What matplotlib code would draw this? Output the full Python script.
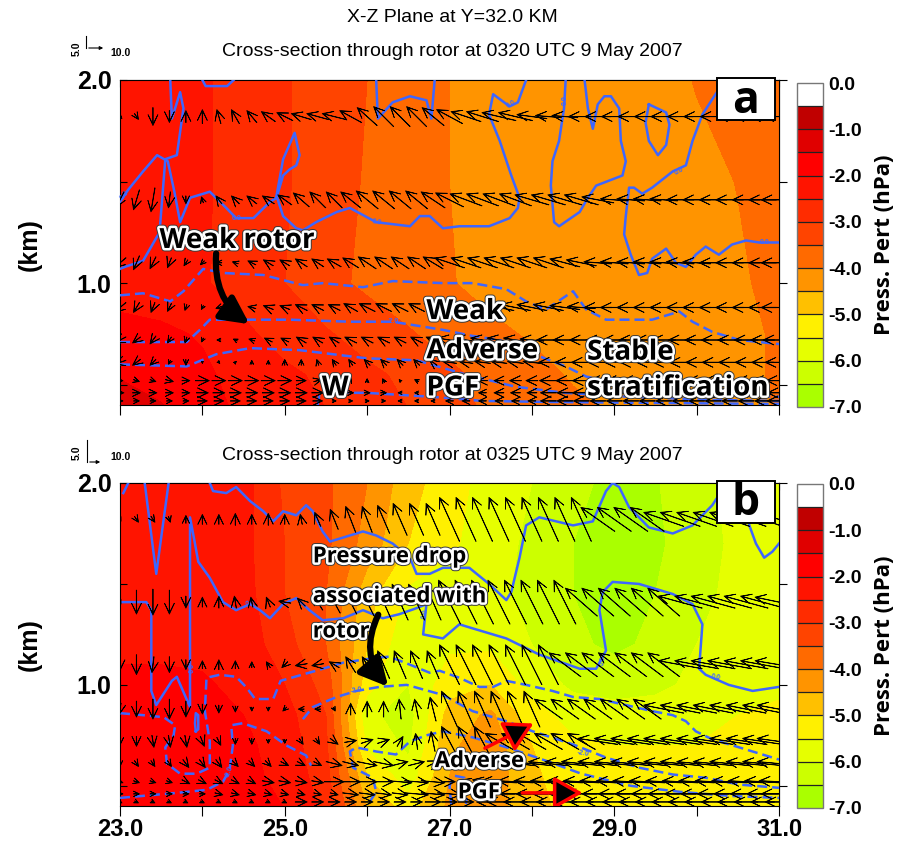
import numpy as np
import matplotlib
matplotlib.use("Agg")
import matplotlib.pyplot as plt
from matplotlib.colors import ListedColormap, BoundaryNorm
from matplotlib.patches import FancyArrowPatch, Rectangle
from matplotlib.lines import Line2D
from matplotlib.ticker import FixedLocator, FixedFormatter
from matplotlib import patheffects as pe
from matplotlib import font_manager as fm


def first_font(*names):
    for name in names:
        try:
            fm.findfont(fm.FontProperties(family=name), fallback_to_default=False)
            return name
        except ValueError:
            continue
    return 'DejaVu Sans'


NARROW = first_font('Liberation Sans Narrow', 'Liberation Sans', 'DejaVu Sans')
HUMAN = first_font('Open Sans', 'Noto Sans', 'DejaVu Sans')

plt.rcParams['axes.unicode_minus'] = False
plt.rcParams['font.family'] = [NARROW]
plt.rcParams['font.weight'] = 'bold'

# ---------------------------------------------------------------- data
press_levels = [-7.0, -6.5, -6.0, -5.5, -5.0, -4.5, -4.0, -3.5, -3.0,
                -2.5, -2.0, -1.5, -1.0, -0.5, 0.0]
press_colors = ['#aaff00', '#ccff00', '#e6ff00', '#fff000', '#ffc000',
                '#ff9400', '#ff6a00', '#ff4400', '#ff2c00', '#ff1400',
                '#ff0000', '#e00000', '#c00000', '#ffffff']
cbar_ticks = [-7.0, -6.0, -5.0, -4.0, -3.0, -2.0, -1.0, 0.0]
cbar_labels = ['-7.0', '-6.0', '-5.0', '-4.0', '-3.0', '-2.0', '-1.0', '0.0']

grid_x = [23.0, 23.5, 24.0, 24.5, 25.0, 25.5, 26.0, 26.5, 27.0,
          27.5, 28.0, 28.5, 29.0, 29.5, 30.0, 30.5, 31.0]

# pressure perturbation (hPa), 0320 UTC
pa_z = [0.38, 0.55, 0.75, 1.0, 1.5, 2.0]
pa_p = [
    [-1.2, -1.45, -1.8, -2.1, -2.3, -2.5, -2.75, -3.0, -3.3, -3.6, -3.75, -3.9, -4.05, -4.2, -4.2, -4.1, -3.98],
    [-1.55, -1.7, -1.9, -2.2, -2.4, -2.6, -2.9, -3.1, -3.4, -3.65, -3.85, -4.05, -4.2, -4.25, -4.2, -4.1, -3.95],
    [-1.85, -1.9, -2.05, -2.4, -2.7, -2.95, -3.2, -3.45, -3.7, -3.9, -4.05, -4.2, -4.3, -4.3, -4.2, -4.1, -3.95],
    [-2.2, -2.3, -2.45, -2.7, -3.0, -3.35, -3.6, -3.8, -3.97, -4.15, -4.25, -4.3, -4.3, -4.25, -4.15, -4.05, -3.9],
    [-2.2, -2.3, -2.45, -2.65, -2.95, -3.25, -3.55, -3.8, -4.0, -4.15, -4.25, -4.3, -4.3, -4.2, -4.1, -3.99, -3.85],
    [-2.2, -2.3, -2.45, -2.65, -2.95, -3.25, -3.5, -3.75, -4.0, -4.15, -4.25, -4.3, -4.25, -4.15, -3.98, -3.85, -3.75],
]

# pressure perturbation (hPa), 0325 UTC
pb_z = [0.38, 0.55, 0.7, 0.85, 1.0, 1.2, 1.45, 1.7, 2.0]
pb_p = [
    [-1.8, -1.8, -1.8, -1.9, -2.0, -2.6, -4.5, -5.2, -4.4, -4.3, -4.8, -5.2, -5.3, -5.3, -5.2, -5.2, -5.1],
    [-1.8, -1.8, -1.8, -1.9, -2.1, -2.8, -5.0, -5.8, -4.5, -4.2, -4.9, -5.3, -5.4, -5.4, -5.3, -5.3, -5.2],
    [-1.75, -1.75, -1.8, -1.9, -2.2, -2.9, -5.6, -6.1, -4.6, -4.2, -5.0, -5.4, -5.5, -5.5, -5.5, -5.4, -5.3],
    [-1.8, -1.8, -1.85, -2.0, -2.3, -3.0, -5.9, -6.2, -4.8, -4.4, -5.3, -5.7, -5.8, -5.8, -5.7, -5.5, -5.4],
    [-1.9, -1.9, -1.95, -2.1, -2.5, -3.2, -5.3, -6.0, -5.2, -5.0, -5.7, -6.1, -6.2, -6.1, -5.9, -5.7, -5.6],
    [-2.1, -2.1, -2.1, -2.2, -2.8, -3.5, -5.0, -5.9, -5.6, -5.6, -6.0, -6.4, -6.6, -6.4, -6.0, -5.8, -5.7],
    [-2.2, -2.2, -2.2, -2.3, -3.0, -3.5, -4.8, -5.6, -5.8, -5.9, -6.1, -6.5, -6.7, -6.5, -6.1, -5.9, -5.8],
    [-2.2, -2.2, -2.2, -2.35, -3.0, -3.4, -4.2, -5.0, -5.4, -5.8, -6.1, -6.5, -6.7, -6.6, -6.2, -5.9, -5.8],
    [-2.2, -2.2, -2.2, -2.3, -3.1, -3.4, -4.0, -4.8, -5.3, -5.7, -6.0, -6.4, -6.6, -6.55, -6.1, -5.9, -5.8],
]

# wind vectors (u, w in m/s) on model levels, columns every 0.2 km from 23.0 to 31.0
wind_x = np.linspace(23.0, 31.0, 41)
wind_z = [0.42, 0.46, 0.52, 0.61, 0.72, 0.88, 1.10, 1.41, 1.82]

pa_u = [
    [3, 3, 3, 3, 3, 5, 5, 5, 5, 5,
     5, 5, 5, 2, 2, 2, 2, -2, -2, -2,
     -4, -4, -4, -4, -4, -4, -8, -8, -8, -8,
     -8, -8, -8, -8, -8, -8, -8, -8, -8, -8, -12],
    [4, 4, 4, 4, 4, 6, 6, 6, 6, 6,
     6, 6, 6, 3, 3, 3, 3, -2, -2, -2,
     -4, -4, -4, -5, -5, -5, -8, -8, -9, -9,
     -9, -9, -9, -9, -9, -9, -9, -9, -9, -9, -12],
    [3, 3, 3, 4, 4, 7, 7, 7, 7, 7,
     7, 5, 4, 2, 1, 0, -1, -1, -2, -3,
     -5, -5, -5, -5, -6, -6, -9, -9, -9, -9,
     -9, -9, -9, -10, -10, -10, -10, -10, -10, -10, -13],
    [-6, -4, -3, -1, 0, 0, 1, 1, 0, 0,
     0, 0, -1, -2, -2, -3, -3, -3, -3, -4,
     -7, -7, -8, -8, -8, -9, -10, -10, -10, -10,
     -10, -11, -11, -11, -11, -11, -11, -11, -11, -11, -14],
    [-6, -4, -3, -2, -1, -1, -2, -2, -3, -4,
     -4, -5, -5, -5, -6, -6, -6, -6, -6, -7,
     -12, -12, -12, -12, -12, -12, -12, -12, -12, -12,
     -12, -12, -12, -12, -12, -12, -12, -12, -12, -12, -16],
    [-6, -3, -2, -2, -1, -1, -3, -3, -4, -5,
     -5, -6, -6, -6, -7, -8, -8, -8, -8, -9,
     -15, -15, -15, -15, -15, -15, -15, -15, -14, -14,
     -14, -14, -14, -14, -14, -14, -14, -14, -14, -14, -18],
    [-6, -3, -3, -2, -2, -2, -3, -3, -4, -5,
     -5, -6, -6, -7, -8, -9, -9, -9, -9, -10,
     -15, -15, -15, -15, -15, -15, -15, -15, -15, -14,
     -14, -14, -14, -14, -14, -14, -14, -14, -14, -14, -18],
    [-4, -3, -2, -1, 0, -1, -3, -4, -5, -6,
     -7, -8, -8, -8, -10, -11, -11, -11, -11, -12,
     -14, -16, -16, -16, -16, -17, -17, -17, -17, -16,
     -14, -14, -14, -14, -14, -14, -14, -14, -14, -14, -18],
    [2, 2, 0, 0, 0, 0, -2, -4, -5, -7,
     -8, -10, -11, -12, -11, -10, -10, -10, -10, -11,
     -13, -15, -16, -17, -17, -15, -13, -13, -13, -13,
     -13, -13, -13, -13, -13, -13, -13, -13, -13, -13, -16],
]
pa_w = [
    [0, 0, 0, 0, 0, 0, 0, 0, 0, 0,
     0, 0, 0, 0, 0, 0, 0, 0, 0, 0,
     0, 0, 0, 0, 0, 0, 0, 0, 0, 0,
     0, 0, 0, 0, 0, 0, 0, 0, 0, 0, 0],
    [0, 0, 0, 0, 0, 0, 0, 0, 0, 0,
     0, 0, 0, 0, 0, 0, 0, 0, 0, 0,
     0, 0, 0, 0, 0, 0, 0, 0, 0, 0,
     0, 0, 0, 0, 0, 0, 0, 0, 0, 0, 0],
    [0, -1, -1, -1, 0, 0, 0, 0, 0, 0,
     0, 0, 1, 1, 2, 2, 2, 1, 1, 1,
     0, 0, 0, 0, 0, 0, 0, 0, 0, 0,
     0, 0, 0, 0, 0, 0, 0, 0, 0, 0, 0],
    [-2, -3, -3, -2, -3, -1, -1, 1, 2, 2,
     3, 3, 3, 3, 3, 3, 3, 3, 3, 3,
     1, 1, 1, 1, 1, 1, 0, 0, 0, 0,
     0, 0, 0, 0, 0, 0, 0, 0, 0, 0, 0],
    [-3, -3, -4, -3, -3, -2, 0, 1, 1, 2,
     2, 3, 3, 3, 3, 3, 3, 3, 3, 3,
     2, 2, 2, 2, 2, 1, 0, 0, 0, 0,
     0, 0, 0, 0, 0, 0, 0, 0, 0, 0, 0],
    [-5, -5, -5, -4, -3, -2, -1, 0, 1, 2,
     2, 3, 3, 3, 4, 4, 4, 4, 4, 4,
     3, 3, 3, 3, 3, 3, 3, 2, 1, 0,
     0, 0, 0, 0, 0, 0, 0, 0, 0, 0, 0],
    [-5, -7, -6, -5, -3, -2, 0, 1, 2, 3,
     3, 4, 4, 4, 5, 6, 6, 6, 6, 6,
     5, 5, 5, 5, 5, 5, 5, 4, 3, 1,
     1, 1, 1, 1, 1, 1, 0, 0, 0, 0, 0],
    [-8, -10, -12, -8, -4, 3, 4, 4, 4, 4,
     5, 7, 8, 8, 8, 9, 9, 9, 9, 8,
     7, 6, 6, 6, 6, 5, 5, 5, 5, 3,
     1, 1, 1, 1, 0, 0, 0, 0, 0, 0, 0],
    [-2, -3, -9, -6, 6, 7, 7, 7, 6, 5,
     4, 3, 3, 3, 6, 9, 10, 10, 10, 9,
     7, 5, 5, 4, 4, 2, 1, 1, 0, 0,
     0, 0, 0, 0, 0, 0, 0, 0, 0, 0, 0],
]

pb_u = [
    [2, 2, 2, 2, 2, 2, 2, 2, 2, 2,
     2, 6, 6, 6, 6, 6, 6, 6, 6, 8,
     8, 8, -6, -12, -12, -12, -12, -12, -12, -12,
     -12, -12, -12, -12, -12, -12, -12, -12, -12, -12, -14],
    [3, 3, 3, 3, 3, 3, 4, 4, 4, 4,
     4, 4, 4, 4, 8, 8, 8, 8, 12, 12,
     12, 4, -8, -16, -16, -16, -16, -16, -16, -16,
     -16, -16, -16, -16, -16, -16, -16, -16, -16, -16, -18],
    [3, 3, 3, 3, 4, 4, 4, 4, 4, 6,
     6, 6, 6, 10, 10, 10, 10, 12, 12, 12,
     6, -6, -10, -18, -18, -18, -18, -18, -18, -18,
     -18, -18, -18, -18, -18, -18, -18, -18, -18, -18, -20],
    [0, 2, 2, 2, 3, 3, 3, 3, 3, 3,
     4, 4, 4, 8, 8, 10, 10, 8, 8, 6,
     -4, -8, -10, -20, -20, -20, -20, -20, -20, -20,
     -20, -20, -20, -20, -20, -20, -20, -20, -20, -20, -22],
    [0, 0, 1, 1, 1, 2, 2, 0, 0, 0,
     0, 2, 2, 4, 6, 6, 6, 3, -1, -2,
     -8, -8, -8, -14, -14, -14, -14, -14, -14, -20,
     -20, -20, -20, -20, -20, -20, -20, -20, -20, -20, -22],
    [-1, 0, 0, 0, 0, 0, 0, 0, 0, 0,
     -2, -3, -3, 1, 0, 0, 0, -1, -2, -3,
     -8, -8, -8, -8, -8, -8, -14, -14, -14, -14,
     -14, -14, -14, -20, -20, -20, -20, -20, -20, -20, -22],
    [0, 0, -1, 0, 0, 0, 0, 0, 0, -2,
     -3, -6, -6, -5, -5, -5, -6, -6, -6, -6,
     -10, -10, -10, -10, -10, -10, -10, -16, -16, -16,
     -16, -16, -16, -16, -22, -22, -22, -22, -22, -22, -24],
    [1, 0, 0, 0, 0, 0, 0, -1, -1, -2,
     -6, -4, -5, -6, -6, -7, -8, -8, -8, -8,
     -11, -11, -11, -11, -11, -11, -11, -11, -16, -16,
     -16, -16, -16, -16, -22, -22, -22, -22, -22, -22, -24],
    [1, 2, 2, 1, 0, 0, 0, 0, 0, 0,
     0, -1, -3, -4, -5, -5, -6, -7, -7, -7,
     -10, -10, -10, -10, -10, -10, -10, -10, -10, -17,
     -17, -17, -17, -20, -20, -20, -20, -20, -20, -20, -22],
]
pb_w = [
    [-1, -1, -1, -1, -1, -1, -1, -1, -1, -1,
     -1, 0, 0, 0, 0, 0, 0, 0, 0, 0,
     0, 0, 0, 0, 0, 0, 0, 0, 0, 0,
     0, 0, 0, 0, 0, 0, 0, 0, 0, 0, 0],
    [0, 0, 0, 0, 0, 0, -1, -1, -1, -1,
     -1, -1, -1, -1, -1, -1, -1, -1, -1, -1,
     -1, 0, 0, 0, 0, 0, 0, 0, 0, 0,
     0, 0, 0, 0, 0, 0, 0, 0, 0, 0, 0],
    [-1, -1, -1, -1, -2, -2, -2, -2, -2, -1,
     -1, -1, -1, 0, 0, 0, 0, -1, -1, -1,
     0, 2, 2, 1, 1, 1, 1, 1, 1, 1,
     1, 1, 1, 1, 1, 1, 1, 1, 1, 1, 1],
    [-3, -3, -3, -3, -4, -4, -4, -3, -3, -3,
     -2, -2, -2, -2, -2, -2, -2, 2, 2, 3,
     6, 6, 6, 2, 2, 2, 2, 2, 2, 2,
     2, 2, 2, 2, 2, 2, 2, 2, 2, 2, 2],
    [-4, -5, -6, -6, -6, -5, -4, -3, -3, -2,
     -2, -3, -3, -3, 1, 2, 2, 5, 8, 10,
     15, 15, 15, 8, 8, 8, 8, 8, 8, 3,
     3, 3, 3, 3, 3, 3, 3, 3, 3, 3, 3],
    [-6, -8, -10, -10, -8, -5, -4, -3, -2, -2,
     -2, 0, 0, -2, 6, 8, 8, 10, 10, 12,
     18, 18, 18, 18, 18, 18, 10, 10, 10, 10,
     10, 10, 10, 4, 4, 4, 4, 4, 4, 4, 4],
    [-6, -10, -8, -8, -5, 4, 5, 4, 3, 3,
     -3, -1, -1, 3, 8, 8, 14, 14, 14, 14,
     20, 20, 20, 20, 20, 20, 20, 12, 12, 12,
     12, 12, 12, 12, 4, 4, 4, 4, 4, 4, 4],
    [-2, -12, -13, -12, -6, 5, 6, 6, 5, 5,
     1, 4, 8, 11, 12, 14, 18, 18, 18, 18,
     22, 22, 22, 22, 22, 22, 22, 22, 14, 14,
     14, 14, 14, 14, 6, 6, 6, 6, 6, 6, 5],
    [-2, -3, -3, -3, 4, 5, 5, 6, 5, 6,
     5, 5, 7, 10, 13, 13, 14, 16, 16, 16,
     22, 22, 22, 22, 22, 22, 22, 22, 22, 12,
     12, 12, 12, 7, 7, 7, 7, 7, 7, 7, 6],
]

# contour lines (x km, z km): solid = 0.0, dashed = -2.0
pa_solid = [
    [(23.0, 1.40), (23.1, 1.46), (23.28, 1.55), (23.45, 1.63), (23.58, 1.60), (23.66, 1.45),
     (23.73, 1.30), (23.85, 1.42), (24.09, 1.45), (24.29, 1.37), (24.41, 1.32), (24.62, 1.32),
     (24.82, 1.40), (24.90, 1.42), (24.98, 1.53), (25.06, 1.56), (25.14, 1.58), (25.18, 1.63),
     (25.12, 1.74), (24.98, 1.61), (24.90, 1.43), (24.98, 1.33), (25.14, 1.27), (25.22, 1.26),
     (25.38, 1.30), (25.63, 1.35), (25.79, 1.37), (26.11, 1.30), (26.52, 1.28), (26.64, 1.33),
     (26.76, 1.33), (26.92, 1.27), (27.12, 1.28), (27.48, 1.28), (27.73, 1.32), (27.83, 1.37),
     (27.85, 1.42), (27.75, 1.53), (27.61, 1.70), (27.48, 1.83), (27.53, 1.93), (27.73, 1.87),
     (27.83, 1.89), (27.93, 2.0)],
    [(23.61, 2.0), (23.63, 1.81), (23.73, 1.94), (23.77, 1.86), (23.69, 1.63), (23.55, 1.61),
     (23.48, 1.25), (23.28, 1.11), (23.06, 1.08), (23.0, 1.07)],
    [(28.41, 2.0), (28.39, 1.86), (28.33, 1.70), (28.25, 1.60), (28.23, 1.48), (28.27, 1.30),
     (28.33, 1.28), (28.58, 1.35), (28.68, 1.42), (28.78, 1.48), (29.10, 1.53), (29.14, 1.60),
     (29.08, 1.70), (29.06, 1.86), (28.96, 1.92), (28.88, 1.92), (28.80, 1.88), (28.74, 1.76),
     (28.68, 1.86), (28.64, 2.0)],
    [(29.42, 1.88), (29.63, 1.84), (29.67, 1.78), (29.63, 1.68), (29.53, 1.63), (29.42, 1.70),
     (29.38, 1.79), (29.42, 1.88)],
    [(30.35, 2.0), (30.23, 1.93), (30.07, 1.83), (29.95, 1.70), (29.87, 1.58), (29.71, 1.55),
     (29.46, 1.47), (29.34, 1.44), (29.24, 1.47), (29.18, 1.47), (29.14, 1.33), (29.12, 1.24),
     (29.20, 1.14), (29.30, 1.04), (29.40, 1.05), (29.46, 1.12), (29.63, 1.17), (29.75, 1.10),
     (29.87, 1.08), (29.99, 1.14), (30.11, 1.18), (30.27, 1.14), (30.43, 1.19), (30.60, 1.21),
     (30.76, 1.20), (31.0, 1.20)],
    [(24.0, 2.0), (24.04, 1.97), (24.3, 1.97), (24.38, 2.0)],
    [(26.11, 2.0), (26.13, 1.81), (26.31, 1.89), (26.52, 1.92), (26.72, 1.90), (26.78, 1.81),
     (26.82, 2.0)],
]
pa_dashed = [
    [(23.0, 0.94), (23.28, 0.95), (23.61, 0.91), (23.77, 0.96), (24.01, 1.07), (24.25, 1.05),
     (24.74, 1.04), (25.22, 0.99), (25.46, 1.0), (25.95, 0.98), (26.31, 1.01), (26.92, 1.0),
     (27.28, 1.0), (27.69, 0.97), (27.93, 0.91), (28.17, 0.87), (28.50, 0.96), (28.66, 0.87),
     (28.90, 0.82), (29.46, 0.82), (29.79, 0.86), (29.95, 0.81), (30.19, 0.76), (30.52, 0.72),
     (31.0, 0.70)],
    [(23.0, 0.71), (23.57, 0.71), (23.81, 0.71), (23.97, 0.77), (24.09, 0.82), (24.41, 0.82),
     (25.06, 0.82), (25.79, 0.81), (26.31, 0.81), (26.92, 0.77), (27.28, 0.74), (27.61, 0.72),
     (28.09, 0.64), (28.41, 0.59), (28.66, 0.54), (29.22, 0.49), (29.71, 0.47), (30.23, 0.45),
     (31.0, 0.44)],
    [(23.0, 0.60), (23.81, 0.59), (24.17, 0.65), (24.58, 0.68), (25.18, 0.67), (25.99, 0.63),
     (26.6, 0.62), (27.2, 0.55), (27.8, 0.49), (28.4, 0.46), (29.2, 0.44), (30.2, 0.425),
     (31.0, 0.42)],
    [(25.40, 0.40), (25.42, 0.45), (25.58, 0.46), (25.99, 0.46), (26.8, 0.44), (27.4, 0.42),
     (28.21, 0.415), (29.5, 0.41), (31.0, 0.405)],
]

pb_solid = [
    [(23.04, 1.95), (23.1, 2.0)],
    [(23.30, 2.0), (23.44, 1.55), (23.59, 2.0)],
    [(24.09, 2.0), (24.13, 1.96), (24.29, 1.95), (24.41, 1.98), (24.58, 1.91), (24.74, 1.86),
     (24.86, 1.81), (24.98, 1.86), (25.14, 1.84), (25.26, 1.89), (25.34, 1.86), (25.46, 1.76),
     (25.55, 1.71), (25.71, 1.73), (25.95, 1.76), (26.11, 1.74), (26.31, 1.70), (26.52, 1.63),
     (26.60, 1.55), (26.76, 1.55), (26.92, 1.58), (27.24, 1.58), (27.48, 1.50), (27.69, 1.42),
     (27.75, 1.46), (27.85, 1.63), (27.93, 1.79), (28.09, 1.83), (28.50, 1.79), (28.74, 1.81),
     (28.90, 1.96), (28.98, 2.0), (29.06, 1.98), (29.18, 1.88), (29.42, 1.78), (29.71, 1.75),
     (29.95, 1.79), (30.19, 1.89), (30.27, 1.94)],
    [(30.60, 1.88), (30.64, 1.79), (30.72, 1.70), (30.82, 1.63), (30.92, 1.66), (31.0, 1.70)],
    [(23.0, 1.41), (23.32, 1.41), (23.38, 1.37), (23.38, 0.97), (23.44, 0.90), (23.63, 1.02),
     (23.69, 1.04), (23.85, 0.89), (23.85, 1.83), (23.91, 1.70), (23.95, 1.61), (24.09, 1.53),
     (24.25, 1.41), (24.41, 1.37), (24.58, 1.40), (24.70, 1.37), (24.82, 1.33), (24.98, 1.40),
     (25.14, 1.43), (25.30, 1.37), (25.46, 1.32), (25.71, 1.33), (25.95, 1.37), (26.19, 1.33),
     (26.39, 1.35), (26.60, 1.38), (26.72, 1.40), (26.68, 1.25), (26.92, 1.23), (27.12, 1.30),
     (27.28, 1.28), (27.69, 1.23), (28.09, 1.15), (28.58, 1.08), (28.78, 1.08), (28.90, 1.17),
     (28.82, 1.37), (28.86, 1.46), (28.98, 1.51), (29.30, 1.50), (29.71, 1.45), (29.95, 1.40),
     (30.07, 1.30), (30.03, 1.08), (30.11, 1.05), (30.39, 1.0), (30.68, 0.97), (31.0, 0.99)],
    [(23.92, 0.77), (23.95, 0.78), (23.95, 0.85), (23.92, 0.86), (23.91, 0.81), (23.92, 0.77)],
]
pb_dashed = [
    [(23.0, 0.86), (23.28, 0.85), (23.53, 0.84), (23.67, 0.80), (23.65, 0.75), (23.55, 0.69),
     (23.57, 0.61), (23.73, 0.56), (23.93, 0.56), (24.09, 0.59), (24.09, 0.72), (24.03, 0.87),
     (24.05, 1.035), (24.21, 1.05), (24.41, 1.04), (24.54, 0.985), (24.64, 0.93), (24.86, 0.93),
     (24.95, 1.02), (25.38, 1.07), (25.71, 1.11), (26.03, 1.13), (26.27, 1.14), (26.52, 1.10),
     (26.76, 1.06), (26.88, 1.07), (27.12, 1.035), (27.36, 0.99), (27.53, 0.99), (27.69, 1.02),
     (27.93, 1.0), (28.25, 0.97), (28.5, 0.94), (28.82, 0.93), (29.14, 0.90), (29.46, 0.87),
     (29.71, 0.85), (29.87, 0.82), (29.99, 0.77), (30.19, 0.73), (30.52, 0.69), (31.0, 0.63)],
    [(25.22, 0.83), (25.34, 0.89), (25.63, 0.94), (25.87, 0.97), (26.15, 0.99), (26.48, 1.0),
     (26.92, 0.95), (27.28, 0.87), (27.69, 0.82), (28.01, 0.77), (28.5, 0.705), (28.9, 0.64),
     (29.3, 0.59), (29.71, 0.556), (30.11, 0.54), (30.52, 0.506), (31.0, 0.49)],
    [(23.0, 0.44), (23.69, 0.465), (24.05, 0.48), (24.25, 0.52), (24.33, 0.58), (24.37, 0.70),
     (24.35, 0.80), (24.49, 0.81), (24.78, 0.77), (25.02, 0.70), (25.26, 0.65), (25.32, 0.60)],
    [(26.03, 0.42), (26.11, 0.47), (26.07, 0.54), (25.83, 0.59), (25.79, 0.67), (25.87, 0.69),
     (26.11, 0.67), (26.35, 0.655), (26.52, 0.72), (26.72, 0.75), (26.92, 0.77), (27.28, 0.74),
     (27.7, 0.69), (28.2, 0.62), (28.6, 0.56), (29.2, 0.50), (29.8, 0.47), (30.4, 0.45),
     (31.0, 0.44)],
    [(27.02, 0.41), (27.0, 0.50), (27.06, 0.55), (27.18, 0.54), (27.22, 0.47), (27.2, 0.41)],
]

pa_clabels = [(23.06, 1.43, '0.0', 50), (24.42, 1.32, '0.0', 0), (26.12, 1.30, '0.0', -10),
              (27.75, 1.88, '0.0', 30), (28.40, 1.90, '0.0', 90), (29.79, 1.55, '0.0', 30),
              (30.83, 1.20, '0.0', 0), (26.31, 0.81, '-2.0', 0)]
pb_clabels = [(24.58, 1.40, '0.0', 10), (23.83, 1.08, '0.0', -90), (25.87, 0.97, '-2.0', 10),
              (28.86, 1.12, '0.0', 80), (30.23, 1.035, '0.0', -10), (28.62, 0.66, '-2.0', -10),
              (24.33, 0.57, '-2.0', 70), (26.70, 1.35, '0.0', 80)]

# ---------------------------------------------------------------- style
BLUE = '#3d66ff'
cmap = ListedColormap(press_colors)
norm = BoundaryNorm(press_levels, cmap.N)
outline = [pe.Stroke(linewidth=5.0, foreground='#3a3a3a'),
           pe.Stroke(linewidth=3.6, foreground='white'), pe.Normal()]

W, H = 901, 842
fig = plt.figure(figsize=(W / 100, H / 100), dpi=100)


def fx(px):
    return px / W


def fy(py):
    return 1 - py / H


axa = fig.add_axes([fx(120), fy(405), 659 / W, 325 / H])
axb = fig.add_axes([fx(120), fy(806), 659 / W, 323 / H])
caxa = fig.add_axes([fx(797), fy(407), 26 / W, 324 / H])
caxb = fig.add_axes([fx(797), fy(808), 26 / W, 324 / H])


def draw_panel(ax, cax, p_z, p_vals, u_rows, w_rows, solid, dashed, clabels, letter, xlabels):
    cf = ax.contourf(grid_x, p_z, np.array(p_vals), levels=press_levels,
                     cmap=cmap, norm=norm, zorder=1)
    for line in solid:
        xs, zs = zip(*line)
        ax.plot(xs, zs, color=BLUE, lw=1.8, zorder=3, solid_joinstyle='round')
    for line in dashed:
        xs, zs = zip(*line)
        ax.plot(xs, zs, color=BLUE, lw=1.8, ls=(0, (4, 2)), zorder=3)
    for x, z, s, rot in clabels:
        ax.text(x, z, s, color=BLUE, fontsize=5, fontweight='bold',
                rotation=rot, ha='center', va='center', zorder=3.5)
    X, Z = np.meshgrid(wind_x, wind_z)
    # thin shafts with stroked, swept-back barbs so the heads read as open "V"s
    ax.quiver(X, Z, np.array(u_rows, float), np.array(w_rows, float),
              pivot='middle', angles='uv', scale=50, scale_units='inches',
              units='dots', width=0.35, headwidth=28, headlength=31,
              headaxislength=5, minlength=0.5, color='black',
              edgecolor='black', linewidth=0.55, zorder=4)

    ax.set_xlim(23.0, 31.0)
    ax.set_ylim(0.40, 2.0)
    ax.set_xticks([23, 25, 27, 29, 31])
    ax.set_xticks([24, 26, 28, 30], minor=True)
    ax.set_yticks([1.0, 2.0])
    ax.set_yticks([0.5, 1.5], minor=True)
    ax.set_yticklabels(['1.0', '2.0'], fontsize=18, fontweight='bold')
    if xlabels:
        ax.set_xticklabels(['23.0', '25.0', '27.0', '29.0', '31.0'],
                           fontsize=17, fontweight='bold')
    else:
        ax.set_xticklabels([])
    ax.tick_params(axis='x', which='both', direction='out', length=7, width=0.8,
                   top=False, pad=2)
    ax.tick_params(axis='y', which='both', direction='in', length=5, width=0.8,
                   right=False, pad=6)
    top = ax.secondary_xaxis('top')
    top.set_xticks([23, 24, 25, 26, 27, 28, 29, 30, 31])
    top.tick_params(direction='in', length=5, width=0.8, labeltop=False)
    right = ax.secondary_yaxis('right')
    right.set_yticks([0.5, 1.0, 1.5, 2.0])
    right.tick_params(direction='out', length=6, width=0.8, labelright=False)

    ax.add_patch(Rectangle((0.906, 0.877), 0.088, 0.13, transform=ax.transAxes,
                           facecolor='white', edgecolor='black', lw=1.4,
                           clip_on=False, zorder=10))
    ax.text(0.950, 0.935, letter, transform=ax.transAxes, ha='center', va='center',
            fontsize=32, fontweight='bold', family=HUMAN, zorder=11)

    cb = fig.colorbar(cf, cax=cax, drawedges=True)
    cb.outline.set_edgecolor('#777777')
    cb.outline.set_linewidth(1.0)
    cb.dividers.set_color('#222222')
    cb.dividers.set_linewidth(0.9)
    return cb


cba = draw_panel(axa, caxa, pa_z, pa_p, pa_u, pa_w, pa_solid, pa_dashed, pa_clabels, 'a', False)
cbb = draw_panel(axb, caxb, pb_z, pb_p, pb_u, pb_w, pb_solid, pb_dashed, pb_clabels, 'b', True)
for cb in (cba, cbb):
    cb.ax.yaxis.set_major_locator(FixedLocator(cbar_ticks))
    cb.ax.yaxis.set_major_formatter(FixedFormatter(cbar_labels))
    cb.ax.yaxis.set_minor_locator(FixedLocator([]))
    cb.ax.tick_params(length=0, pad=4, labelsize=14)

# ---------------------------------------------------------------- annotations
def note(ax, x, z, s, size):
    ax.text(x, z, s, fontsize=size, fontweight='bold', family=HUMAN, color='black',
            ha='left', va='center', path_effects=outline, zorder=8)


note(axa, 23.48, 1.21, 'Weak rotor', 20)
note(axa, 26.72, 0.86, 'Weak', 20)
note(axa, 26.72, 0.667, 'Adverse', 20)
note(axa, 26.72, 0.484, 'PGF', 20)
note(axa, 25.45, 0.484, 'W', 20)
note(axa, 28.67, 0.66, 'Stable', 20)
note(axa, 28.67, 0.484, 'stratification', 20)

note(axb, 25.34, 1.634, 'Pressure drop', 16)
note(axb, 25.34, 1.436, 'associated with', 16)
note(axb, 25.34, 1.262, 'rotor', 16)
note(axb, 26.82, 0.62, 'Adverse', 16)
note(axb, 27.10, 0.465, 'PGF', 16)

axa.add_patch(FancyArrowPatch((24.17, 1.16), (24.60, 0.79), connectionstyle='arc3,rad=0.3',
                              arrowstyle='-|>,head_length=0.75,head_width=0.38',
                              mutation_scale=22, lw=4.5, color='black', zorder=9))
axb.add_patch(FancyArrowPatch((26.15, 1.36), (26.28, 0.98), connectionstyle='arc3,rad=0.35',
                              arrowstyle='-|>,head_length=0.75,head_width=0.38',
                              mutation_scale=22, lw=4.5, color='black', zorder=9))
axb.add_patch(FancyArrowPatch((27.40, 0.68), (28.05, 0.815),
                              arrowstyle='-|>,head_length=0.8,head_width=0.45',
                              mutation_scale=22, lw=2.5, edgecolor='red',
                              facecolor='black', zorder=9))
axb.add_patch(FancyArrowPatch((27.85, 0.465), (28.65, 0.465),
                              arrowstyle='-|>,head_length=0.8,head_width=0.45',
                              mutation_scale=22, lw=2.5, edgecolor='red',
                              facecolor='black', zorder=9))

# ---------------------------------------------------------------- titles and labels
fig.text(0.502, fy(17), 'X-Z Plane at Y=32.0 KM', ha='center', va='center',
         fontsize=14, fontweight='normal')
fig.text(0.502, fy(52), 'Cross-section through rotor at 0320 UTC 9 May 2007',
         ha='center', va='center', fontsize=14, fontweight='normal')
fig.text(0.502, fy(455), 'Cross-section through rotor at 0325 UTC 9 May 2007',
         ha='center', va='center', fontsize=14, fontweight='normal')

for yc in (245, 645):
    fig.text(fx(30), fy(yc), '(km)', rotation=90, ha='center', va='center',
             fontsize=18, fontweight='bold')
for yc in (245, 646):
    fig.text(fx(884), fy(yc), 'Press. Pert (hPa)', rotation=90, ha='center',
             va='center', fontsize=16, fontweight='bold', family=HUMAN)

# vector scale keys
for (vx, vtop, vbot, hx, lab10_y, lab5_y) in ((86, 36, 48, 106, 53, 49),
                                               (87, 440, 462, 103, 457, 453)):
    fig.add_artist(Line2D([fx(vx), fx(vx)], [fy(vtop), fy(vbot)], color='black', lw=0.8))
    fig.add_artist(FancyArrowPatch((fx(vx), fy(vbot)), (fx(hx), fy(vbot)),
                                   transform=fig.transFigure, arrowstyle='-|>',
                                   mutation_scale=5, lw=0.8, color='black'))
    fig.text(fx(110), fy(lab10_y), '10.0', ha='left', va='center', fontsize=7.5,
             fontweight='bold')
    fig.text(fx(77), fy(lab5_y), '5.0', ha='center', va='center', rotation=90,
             fontsize=7.5, fontweight='bold')

fig.savefig('out.png', dpi=100)
